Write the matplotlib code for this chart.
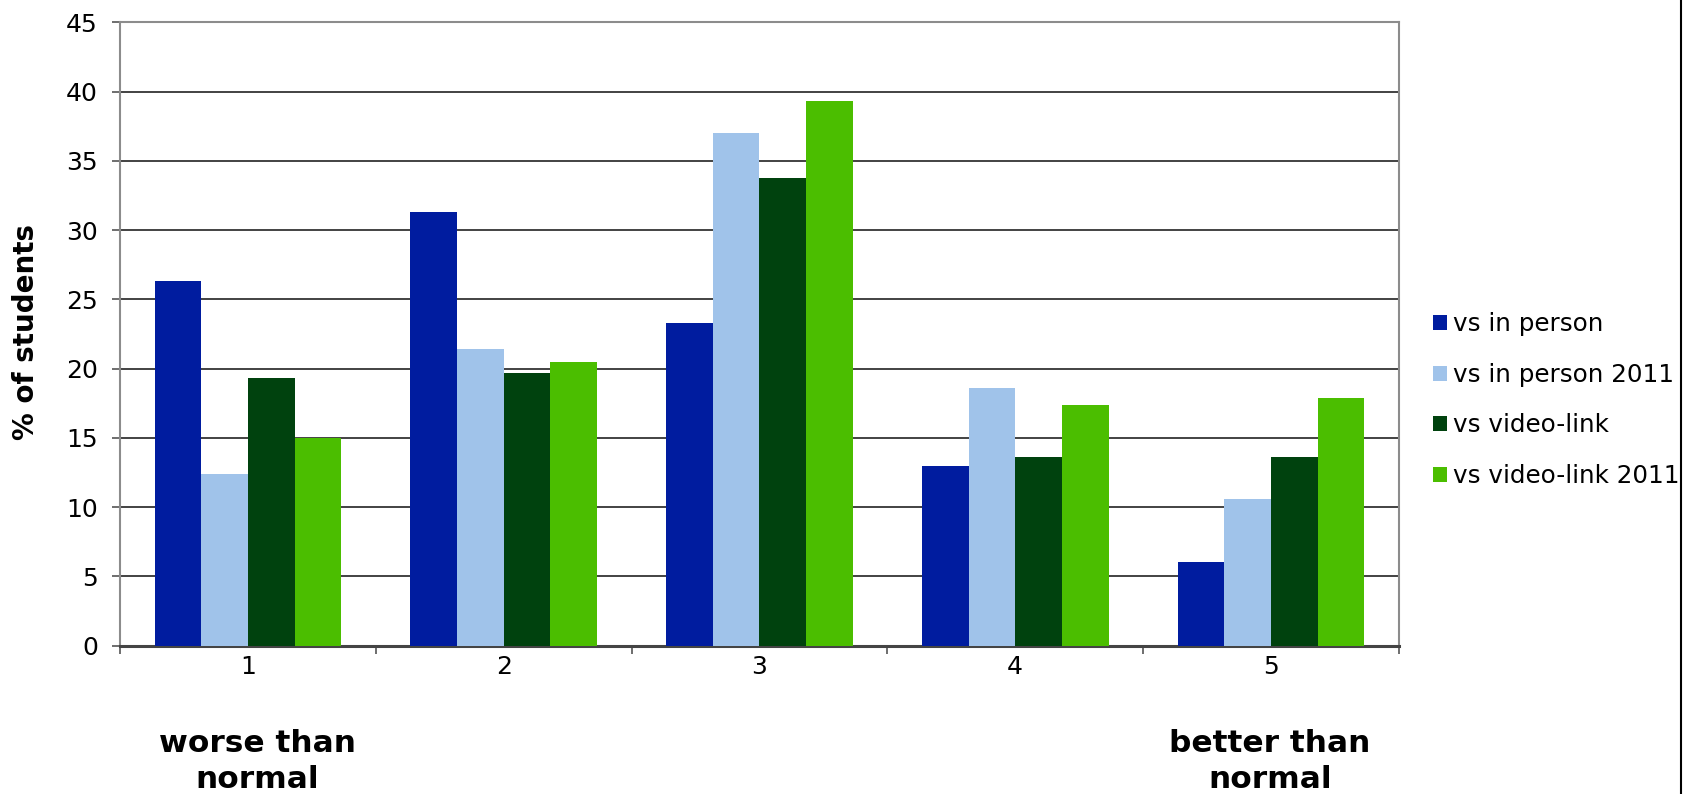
import numpy as np
import matplotlib
matplotlib.use("Agg")
import matplotlib.pyplot as plt
from matplotlib.lines import Line2D

# data
categories = ["1", "2", "3", "4", "5"]
series_names = ["vs in person", "vs in person 2011", "vs video-link", "vs video-link 2011"]
in_person = [26.3, 31.3, 23.3, 13.0, 6.0]
in_person_2011 = [12.4, 21.4, 37.0, 18.6, 10.6]
video_link = [19.3, 19.7, 33.8, 13.6, 13.6]
video_link_2011 = [15.0, 20.5, 39.3, 17.4, 17.9]
colors = ["#001C9F", "#A0C3EA", "#00420E", "#4BBE00"]

plt.rcParams['font.family'] = ['DejaVu Sans']

fig = plt.figure(figsize=(16.84, 7.94), dpi=100)
ax = fig.add_axes([0.0713, 0.187, 0.7594, 0.7847])

x = np.arange(1, len(categories) + 1)
w = 0.1825
all_series = [in_person, in_person_2011, video_link, video_link_2011]
for i, (vals, name) in enumerate(zip(all_series, series_names)):
    ax.bar(x + (i - 1.5) * w, vals, width=w, color=colors[i], label=name,
           zorder=3, linewidth=0)

ax.set_xlim(0.5, 5.5)
ax.set_ylim(0, 45)
ax.set_yticks(np.arange(0, 46, 5))
ax.yaxis.grid(True, color="#222222", linewidth=1.2, zorder=1)
ax.set_axisbelow(True)

# category labels at centres, tick marks between categories
ax.set_xticks(x)
ax.set_xticklabels(categories)
ax.set_xticks(np.arange(0.5, 5.6, 1.0), minor=True)
ax.tick_params(axis="x", which="major", length=0, pad=7, labelsize=18)
ax.tick_params(axis="x", which="minor", length=6, width=1.2, color="#555555", direction="out")
ax.tick_params(axis="y", length=6, width=1.2, color="#555555", pad=10, labelsize=18)

for s in ["left", "top", "right"]:
    ax.spines[s].set_color("#8c8c8c")
    ax.spines[s].set_linewidth(1.5)
ax.spines["bottom"].set_color("#444444")
ax.spines["bottom"].set_linewidth(2.2)

fig.text(0.0155, 0.582, "% of students", rotation=90, ha="center", va="center",
         fontsize=20, fontweight="bold")
fig.text(0.153, 0.041, "worse than\nnormal", ha="center", va="center",
         fontsize=22.5, fontweight="bold", linespacing=1.33)
fig.text(0.754, 0.041, "better than\nnormal", ha="center", va="center",
         fontsize=22.5, fontweight="bold", linespacing=1.33)

fig.legend(loc="center left", bbox_to_anchor=(0.851, 0.496), frameon=False,
           fontsize=17.7, handlelength=0.55, handleheight=0.55, handletextpad=0.25,
           labelspacing=1.08, borderpad=0, borderaxespad=0)

fig.add_artist(Line2D([0.9985, 0.9985], [0, 1], color="black", linewidth=1.5))

fig.savefig("out.png", dpi=100)
